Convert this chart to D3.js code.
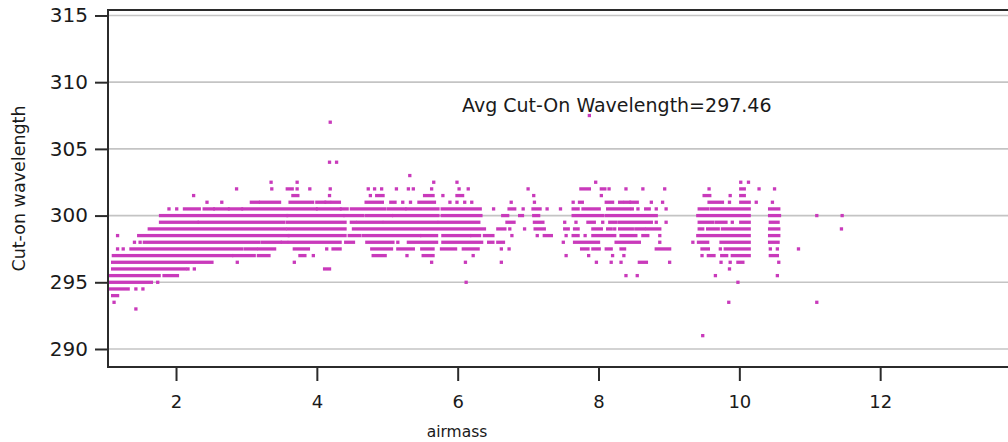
<!DOCTYPE html>
<html>
<head>
<meta charset="utf-8">
<script src="https://cdn.jsdelivr.net/npm/d3@7"></script>
<style>
  html, body { margin: 0; padding: 0; background: #fff; }
  svg { display: block; }
  text { font-family: "DejaVu Sans", Verdana, sans-serif; fill: #1a1a1a; }
</style>
</head>
<body>
<svg id="chart" width="1008" height="442"></svg>
<script>
// ---------------- data ----------------
const xTicks = [2, 4, 6, 8, 10, 12];
const yTicks = [290, 295, 300, 305, 310, 315];
const xTitle = "airmass";
const yTitle = "Cut-on wavelength";
const avgLabel = "Avg Cut-On Wavelength=297.46";

// dense runs of observations: [wavelength, airmass from, airmass to]
const runs = [
  [302, 3.58, 3.65], [302, 7.75, 7.87], [302, 8.04, 8.09], [302, 10.02, 10.07],
  [301.5, 3.66, 3.73], [301.5, 4.85, 4.94], [301.5, 5.53, 5.65], [301.5, 5.99, 6.07], [301.5, 9.50, 9.58], [301.5, 10.02, 10.07],
  [301, 3.07, 3.17], [301, 3.20, 3.47], [301, 3.62, 3.94], [301, 4.00, 4.11], [301, 4.13, 4.18], [301, 4.22, 4.32],
  [301, 4.70, 4.93], [301, 5.05, 5.11], [301, 5.45, 5.67], [301, 7.73, 7.77], [301, 8.11, 8.20], [301, 8.30, 8.34],
  [301, 8.38, 8.44], [301, 8.46, 8.55], [301, 9.57, 9.76], [301, 10.02, 10.14],
  [300.5, 2.12, 2.33], [300.5, 2.40, 2.53], [300.5, 2.55, 2.74], [300.5, 2.76, 2.93], [300.5, 2.95, 3.99], [300.5, 4.01, 4.33],
  [300.5, 4.35, 4.43], [300.5, 4.49, 4.96], [300.5, 5.01, 5.25], [300.5, 5.28, 5.72], [300.5, 5.78, 6.32], [300.5, 6.73, 6.81],
  [300.5, 7.07, 7.17], [300.5, 7.64, 7.71], [300.5, 7.78, 8.01], [300.5, 8.13, 8.44], [300.5, 8.67, 8.72], [300.5, 9.43, 9.55],
  [300.5, 9.60, 10.14], [300.5, 10.43, 10.56],
  [300, 1.78, 3.57], [300, 3.59, 4.37], [300, 4.40, 4.65], [300, 4.70, 5.06], [300, 5.09, 5.72], [300, 5.78, 6.33],
  [300, 6.64, 6.71], [300, 6.88, 6.92], [300, 7.08, 7.15], [300, 7.64, 8.06], [300, 8.11, 8.82], [300, 9.41, 10.14], [300, 10.43, 10.57],
  [299.5, 1.78, 2.30], [299.5, 2.33, 3.53], [299.5, 3.58, 4.40], [299.5, 4.49, 4.54], [299.5, 4.58, 4.92], [299.5, 4.96, 5.70],
  [299.5, 5.74, 6.30], [299.5, 6.70, 6.80], [299.5, 7.09, 7.21], [299.5, 7.85, 7.94], [299.5, 8.16, 8.25], [299.5, 8.30, 8.75],
  [299.5, 9.43, 9.62], [299.5, 9.67, 9.81], [299.5, 10.02, 10.14], [299.5, 10.44, 10.55],
  [299, 1.62, 3.55], [299, 3.59, 4.40], [299, 4.52, 6.38], [299, 6.57, 6.67], [299, 7.10, 7.23], [299, 7.52, 7.57],
  [299, 7.66, 7.71], [299, 7.92, 8.04], [299, 8.13, 8.18], [299, 8.30, 8.48], [299, 8.53, 8.65], [299, 8.69, 8.87],
  [299, 9.43, 9.48], [299, 9.55, 9.70], [299, 9.76, 10.14], [299, 10.43, 10.56],
  [298.5, 1.47, 3.59], [298.5, 3.61, 4.40], [298.5, 4.46, 4.61], [298.5, 4.66, 5.46], [298.5, 5.49, 5.70], [298.5, 5.79, 6.17],
  [298.5, 6.20, 6.31], [298.5, 6.38, 6.50], [298.5, 7.23, 7.33], [298.5, 7.64, 7.71], [298.5, 7.92, 8.23], [298.5, 8.32, 8.53],
  [298.5, 8.63, 8.70], [298.5, 9.41, 10.14], [298.5, 10.43, 10.56],
  [298, 1.55, 3.17], [298, 3.22, 3.48], [298, 3.51, 3.57], [298, 3.61, 4.33], [298, 4.41, 4.52], [298, 4.71, 5.08],
  [298, 5.30, 5.70], [298, 5.79, 6.34], [298, 6.44, 6.50], [298, 6.57, 6.65], [298, 7.66, 8.00], [298, 8.25, 8.58],
  [298, 9.42, 9.55], [298, 9.74, 10.14], [298, 10.43, 10.55],
  [297.5, 1.36, 2.93], [297.5, 2.98, 3.14], [297.5, 3.18, 3.40], [297.5, 3.68, 3.88], [297.5, 4.23, 4.33], [297.5, 4.78, 5.06],
  [297.5, 5.15, 5.37], [297.5, 5.49, 5.65], [297.5, 5.77, 5.97], [297.5, 6.08, 6.29], [297.5, 7.76, 7.85], [297.5, 7.92, 8.01],
  [297.5, 8.11, 8.18], [297.5, 8.32, 8.37], [297.5, 8.82, 9.01], [297.5, 9.47, 9.56], [297.5, 9.80, 10.14],
  [297, 1.11, 2.79], [297, 2.82, 3.11], [297, 3.17, 3.32], [297, 3.76, 3.83], [297, 4.80, 4.97], [297, 5.51, 5.65],
  [297, 9.56, 9.64], [297, 9.75, 9.82], [297, 9.90, 10.14], [297, 10.44, 10.54],
  [296.5, 1.10, 2.51], [296.5, 8.58, 8.68], [296.5, 9.98, 10.05],
  [296, 1.10, 2.13], [296, 4.11, 4.18],
  [295.5, 1.07, 1.76], [295.5, 1.83, 2.02],
  [295, 1.07, 1.65],
  [294.5, 1.07, 1.32],
  [294, 1.10, 1.17]
];

// isolated observations: [airmass, wavelength]
const points = [
  [4.19, 307], [7.87, 307.5], [4.18, 304], [4.28, 304], [5.32, 303],
  [3.35, 302.5], [3.72, 302.5], [5.66, 302.5], [5.99, 302.5], [7.96, 302.5], [10.02, 302.5], [10.13, 302.5],
  [2.86, 302], [3.36, 302], [3.72, 302], [3.90, 302], [4.19, 302], [4.73, 302], [4.82, 302], [4.92, 302],
  [5.13, 302], [5.30, 302], [5.37, 302], [5.63, 302], [6.02, 302], [6.15, 302], [7.00, 302], [8.15, 302],
  [8.39, 302], [8.63, 302], [8.94, 302], [9.57, 302], [10.28, 302], [10.50, 302],
  [2.25, 301.5], [4.18, 301.5], [4.76, 301.5], [5.79, 301.5], [7.08, 301.5], [8.04, 301.5], [9.87, 301.5],
  [2.44, 301], [2.65, 301], [5.22, 301], [5.33, 301], [5.89, 301], [5.99, 301], [6.10, 301], [6.20, 301],
  [6.76, 301], [7.09, 301], [7.64, 301], [8.75, 301], [8.91, 301], [9.86, 301], [10.24, 301], [10.47, 301],
  [1.90, 300.5], [2.01, 300.5], [6.51, 300.5], [6.93, 300.5], [7.27, 300.5], [7.46, 300.5], [8.48, 300.5],
  [8.56, 300.5], [8.82, 300.5], [8.96, 300.5],
  [11.10, 300], [11.46, 300],
  [7.52, 299.5], [7.68, 299.5], [8.06, 299.5], [8.82, 299.5], [8.96, 299.5], [9.90, 299.5],
  [6.74, 299], [6.95, 299], [8.23, 299], [11.45, 299],
  [1.17, 298.5], [6.77, 298.5], [7.13, 298.5], [7.54, 298.5], [7.81, 298.5], [8.87, 298.5],
  [1.41, 298], [1.49, 298], [5.15, 298], [7.50, 298], [8.87, 298], [9.34, 298],
  [1.17, 297.5], [1.25, 297.5], [4.14, 297.5], [6.62, 297.5], [6.73, 297.5], [9.73, 297.5], [10.44, 297.5],
  [10.54, 297.5], [10.84, 297.5],
  [3.95, 297], [5.28, 297], [6.22, 297], [7.54, 297], [7.86, 297], [8.20, 297], [8.36, 297], [9.47, 297],
  [2.87, 296.5], [3.68, 296.5], [5.63, 296.5], [6.11, 296.5], [6.62, 296.5], [7.97, 296.5], [8.18, 296.5],
  [8.32, 296.5], [9.01, 296.5], [9.74, 296.5], [9.87, 296.5], [10.56, 296.5],
  [2.17, 296], [2.26, 296], [9.86, 296],
  [8.39, 295.5], [8.55, 295.5], [9.66, 295.5], [10.54, 295.5],
  [1.74, 295], [6.12, 295], [9.98, 295],
  [1.43, 294.5], [1.53, 294.5],
  [1.12, 293.5], [9.85, 293.5], [11.10, 293.5],
  [1.43, 293], [9.48, 291]
];

// ---------------- drawing ----------------
const svg = d3.select("#chart");
const plotLeft = 108, plotTop = 10, plotBottom = 367, plotRight = 1021;
const x = d3.scaleLinear().domain([1.034, 14]).range([plotLeft, plotRight]);
const y = d3.scaleLinear().domain([288.65, 315.41]).range([plotBottom, plotTop]);
const markColor = "#c93abb";
const dot = 3.3;

// gridlines
svg.append("g").selectAll("line").data(yTicks).join("line")
  .attr("x1", plotLeft).attr("x2", 1008)
  .attr("y1", d => y(d)).attr("y2", d => y(d))
  .attr("stroke", "#c4c4c4").attr("stroke-width", 1.6);

// runs
svg.append("g").selectAll("rect").data(runs).join("rect")
  .attr("x", d => x(d[1]) - dot / 2)
  .attr("y", d => y(d[0]) - dot / 2)
  .attr("width", d => x(d[2]) - x(d[1]) + dot)
  .attr("height", dot)
  .attr("fill", markColor);

// single points
svg.append("g").selectAll("rect").data(points).join("rect")
  .attr("x", d => x(d[0]) - dot / 2)
  .attr("y", d => y(d[1]) - dot / 2)
  .attr("width", dot).attr("height", dot)
  .attr("fill", markColor);

// frame line (top)
svg.append("line").attr("x1", plotLeft).attr("x2", 1008).attr("y1", plotTop).attr("y2", plotTop)
  .attr("stroke", "#2b2b2b").attr("stroke-width", 2);

// axes
const xAxis = d3.axisBottom(x).tickValues(xTicks).tickSize(14).tickPadding(14).tickFormat(d3.format("d"));
const gx = svg.append("g").attr("transform", `translate(0,${plotBottom})`).call(xAxis);
gx.select(".domain").attr("stroke", "#2b2b2b").attr("stroke-width", 2)
  .attr("d", `M${plotLeft},0H1008`);
gx.selectAll(".tick line").attr("stroke", "#2b2b2b").attr("stroke-width", 2);
gx.selectAll(".tick text").attr("font-size", 18).attr("font-family", "DejaVu Sans").attr("fill", "#1a1a1a");

const yAxis = d3.axisLeft(y).tickValues(yTicks).tickSize(13).tickPadding(7).tickFormat(d3.format("d"));
const gy = svg.append("g").attr("transform", `translate(${plotLeft},0)`).call(yAxis);
gy.select(".domain").attr("stroke", "#2b2b2b").attr("stroke-width", 2)
  .attr("d", `M0,${plotTop - 1}V${plotBottom + 1}`);
gy.selectAll(".tick line").attr("stroke", "#2b2b2b").attr("stroke-width", 2);
gy.selectAll(".tick text").attr("font-size", 20).attr("font-family", "DejaVu Sans").attr("fill", "#1a1a1a");

// titles
svg.append("text").attr("x", 457).attr("y", 437).attr("text-anchor", "middle")
  .attr("font-size", 15.5).text(xTitle);
svg.append("text").attr("transform", `translate(25,${(plotTop + plotBottom) / 2}) rotate(-90)`)
  .attr("text-anchor", "middle").attr("font-size", 17.5).text(yTitle);

// annotation
svg.append("text").attr("x", 462).attr("y", 112).attr("font-size", 19).text(avgLabel);
</script>
</body>
</html>
